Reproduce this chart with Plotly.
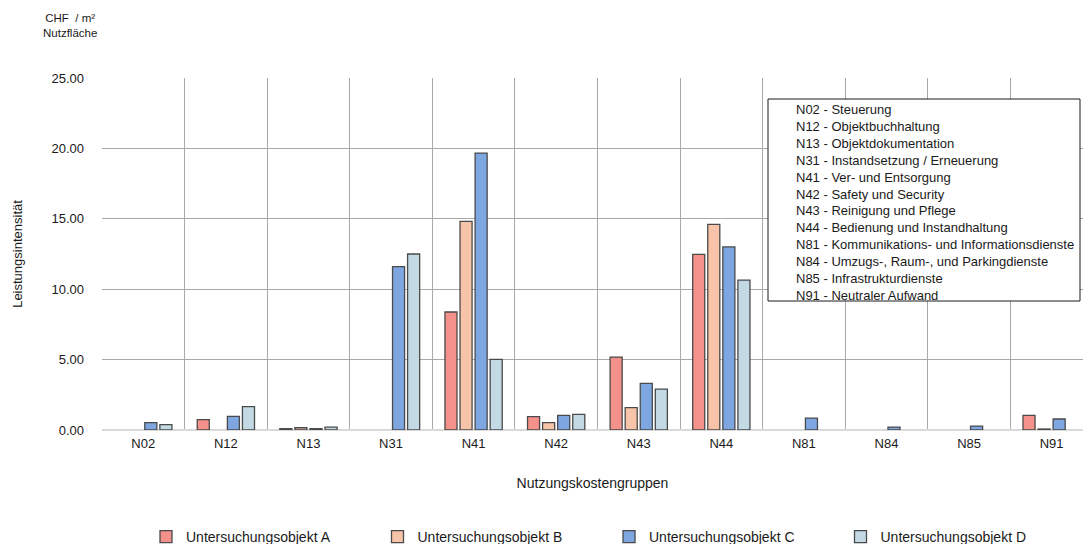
import plotly.graph_objects as go

# Cost groups (x categories)
groups = ["N02", "N12", "N13", "N31", "N41", "N42", "N43", "N44", "N81", "N84", "N85", "N91"]

# Intensity values in CHF / m2 usable floor area (None = no cost reported)
objekt_a = [None, 0.73, 0.10, None, 8.38, 0.95, 5.18, 12.47, None, None, None, 1.04]
objekt_b = [None, None, 0.16, None, 14.82, 0.52, 1.59, 14.60, None, None, None, 0.07]
objekt_c = [0.52, 0.97, 0.10, 11.60, 19.67, 1.04, 3.31, 13.00, 0.85, 0.21, 0.28, 0.78]
objekt_d = [0.38, 1.66, 0.21, 12.50, 5.02, 1.11, 2.91, 10.65, None, None, None, None]

series_names = ["Untersuchungsobjekt A", "Untersuchungsobjekt B",
                "Untersuchungsobjekt C", "Untersuchungsobjekt D"]
series_values = [objekt_a, objekt_b, objekt_c, objekt_d]
series_colors = ["#F4918A", "#F8C4A9", "#7EA6E0", "#C3DAE5"]

# Descriptions shown in the key box
group_labels = [
    "N02 - Steuerung",
    "N12 - Objektbuchhaltung",
    "N13 - Objektdokumentation",
    "N31 - Instandsetzung / Erneuerung",
    "N41 - Ver- und Entsorgung",
    "N42 - Safety und Security",
    "N43 - Reinigung und Pflege",
    "N44 - Bedienung und Instandhaltung",
    "N81 - Kommunikations- und Informationsdienste",
    "N84 - Umzugs-, Raum-, und Parkingdienste",
    "N85 - Infrastrukturdienste",
    "N91 - Neutraler Aufwand",
]

FONT = "Liberation Sans, Arial, sans-serif"
W, H = 1083, 544
ML, MR, MT, MB = 102, 0, 78, 114
PW, PH = W - ML - MR, H - MT - MB


def px_x(x):
    return (x - ML) / PW


def px_y(y):
    return (H - MB - y) / PH


fig = go.Figure()
for name, vals, col in zip(series_names, series_values, series_colors):
    fig.add_trace(go.Bar(
        x=groups, y=vals, name=name,
        marker=dict(color=col, line=dict(color="#4A4A4A", width=1.3)),
    ))

grid = "#A8A8A8"
fig.update_layout(
    width=W, height=H,
    margin=dict(l=ML, r=MR, t=MT, b=MB, autoexpand=False),
    paper_bgcolor="white", plot_bgcolor="white",
    font=dict(family=FONT, size=13, color="#1A1A1A"),
    barmode="group", bargap=0.27, bargroupgap=0.2,
    showlegend=True,
    legend=dict(
        orientation="h", x=px_x(146), y=px_y(537), xanchor="left", yanchor="middle",
        entrywidth=186.5, entrywidthmode="pixels", font=dict(size=14),
        traceorder="normal", itemclick=False,
    ),
    xaxis=dict(
        type="category", categoryorder="array", categoryarray=groups,
        range=[-0.5, 11.38], tickson="boundaries", showgrid=True,
        gridcolor=grid, gridwidth=1.3, ticks="", showline=False,
        tickfont=dict(size=13), ticklabelstandoff=4,
        title=dict(text="Nutzungskostengruppen", font=dict(size=14), standoff=28),
    ),
    yaxis=dict(
        range=[0, 25], dtick=5, tickformat=".2f", showgrid=True,
        gridcolor=grid, gridwidth=1.3, zeroline=True, zerolinecolor="#D9D9D9",
        zerolinewidth=1.5, ticks="", tickfont=dict(size=13), ticklabelstandoff=17,
        title=dict(text="Leistungsintensität", font=dict(size=13), standoff=25),
    ),
)

# Unit label above the value axis
fig.add_annotation(
    xref="paper", yref="paper", x=px_x(70), y=px_y(10),
    xanchor="center", yanchor="top", showarrow=False,
    text="CHF  / m²<br>Nutzfläche", font=dict(size=11.5), align="center",
)

# Key box with the cost group descriptions
fig.add_shape(
    type="rect", xref="paper", yref="paper",
    x0=px_x(768), x1=px_x(1080), y0=px_y(301), y1=px_y(99),
    line=dict(color="#1A1A1A", width=1), fillcolor="white", layer="above",
)
fig.add_annotation(
    xref="paper", yref="paper", x=px_x(794), y=px_y(100),
    xanchor="left", yanchor="top", showarrow=False, align="left",
    text="<br>".join(group_labels), font=dict(size=13),
)

fig.write_html("out.html")
